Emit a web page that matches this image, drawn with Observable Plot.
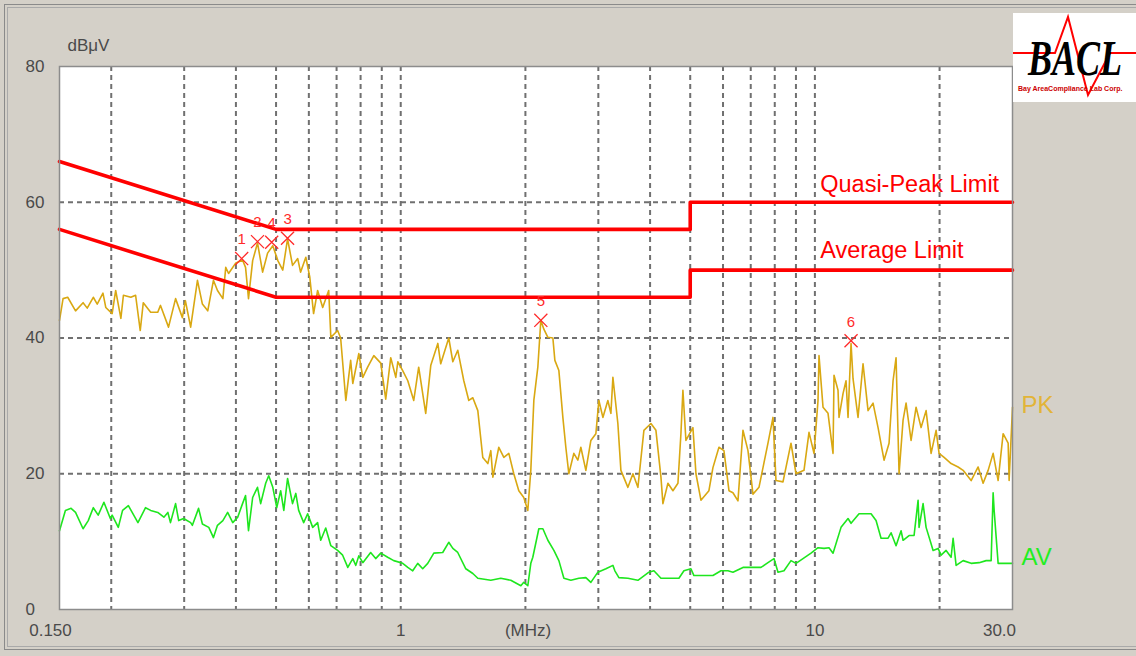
<!DOCTYPE html>
<html><head><meta charset="utf-8">
<script src="https://cdn.jsdelivr.net/npm/d3@7"></script>
<script src="https://cdn.jsdelivr.net/npm/@observablehq/plot@0.6"></script>
<style>
html,body{margin:0;padding:0;background:#d4d0c8;}
#wrap{position:relative;width:1136px;height:656px;overflow:hidden;background:#d4d0c8;font-family:"Liberation Sans",Arial,sans-serif;}
#chart{position:absolute;left:0;top:0;}
.b1{position:absolute;left:4px;top:4px;width:1140px;height:646px;border:1px solid #8a8a8a;box-sizing:border-box;}
.b2{position:absolute;left:7px;top:7px;width:1140px;height:640px;border:1px solid #a9a9a9;box-sizing:border-box;}
#logo{position:absolute;left:1013px;top:13px;width:123px;height:89px;background:#fff;}
</style></head>
<body><div id="wrap"><div class="b1"></div><div class="b2"></div><div id="chart"></div>
<div id="logo"><svg width="123" height="89" viewBox="0 0 123 89">
<polyline points="0,40 42,40 55,4 75,82 97,40 123,40" fill="none" stroke="#ff0000" stroke-width="2"/>
<g transform="scale(1,1.4)"><text x="15" y="44.3" font-family="Liberation Serif, Times New Roman, serif" font-weight="bold" font-style="italic" font-size="36" fill="#000">BACL</text></g>
<text x="5" y="78" font-family="Liberation Sans, Arial, sans-serif" font-weight="bold" font-size="7" fill="#cc0000">Bay AreaCompliance Lab Corp.</text>
</svg></div>
</div>
<script>
// Peak (PK) trace: [MHz, dBµV]
const pkTrace = [[0.150,42.6],[0.153,45.8],[0.157,46.0],[0.164,44.0],[0.171,45.2],[0.175,44.4],[0.181,46.0],[0.185,45.0],[0.191,46.6],[0.194,44.5],[0.201,43.6],[0.205,47.0],[0.211,42.9],[0.214,46.3],[0.223,46.0],[0.229,46.3],[0.235,41.1],[0.239,45.2],[0.249,43.8],[0.259,43.8],[0.263,44.8],[0.275,41.6],[0.286,45.8],[0.297,43.0],[0.302,45.5],[0.311,41.6],[0.323,48.5],[0.332,45.0],[0.342,44.0],[0.353,48.5],[0.361,47.0],[0.372,45.8],[0.378,50.4],[0.384,49.5],[0.399,51.0],[0.415,51.5],[0.422,50.4],[0.429,45.8],[0.439,51.4],[0.451,54.0],[0.464,49.7],[0.477,52.5],[0.491,53.6],[0.505,51.4],[0.519,50.0],[0.533,54.6],[0.548,50.7],[0.564,51.7],[0.573,49.7],[0.590,51.9],[0.603,49.0],[0.616,43.6],[0.630,47.0],[0.648,44.5],[0.670,47.0],[0.678,40.1],[0.704,41.1],[0.716,40.0],[0.737,30.8],[0.757,36.7],[0.766,33.3],[0.792,37.7],[0.810,34.2],[0.832,35.7],[0.861,37.4],[0.895,36.3],[0.920,31.0],[0.946,37.1],[0.973,34.2],[0.984,36.5],[1.011,35.2],[1.040,33.7],[1.075,30.8],[1.105,35.7],[1.149,28.9],[1.182,36.0],[1.229,39.2],[1.249,36.2],[1.306,40.0],[1.336,36.5],[1.373,38.2],[1.420,33.7],[1.460,30.8],[1.493,31.2],[1.535,29.3],[1.578,22.4],[1.623,21.5],[1.650,23.4],[1.669,19.5],[1.725,23.9],[1.774,22.4],[1.824,23.0],[1.875,20.0],[1.928,17.5],[1.982,16.5],[2.027,14.6],[2.061,20.5],[2.096,30.8],[2.143,35.7],[2.179,42.6],[2.216,41.3],[2.266,40.1],[2.330,40.0],[2.356,36.7],[2.409,35.2],[2.463,28.3],[2.504,23.9],[2.546,20.0],[2.618,23.0],[2.677,22.0],[2.722,23.9],[2.799,20.5],[2.878,24.9],[2.959,25.9],[3.009,30.8],[3.077,28.3],[3.163,30.8],[3.217,28.9],[3.253,34.2],[3.344,27.4],[3.401,20.5],[3.536,18.0],[3.636,20.0],[3.738,18.0],[3.865,26.4],[4.019,27.4],[4.132,26.4],[4.249,19.5],[4.296,15.6],[4.417,18.6],[4.542,17.5],[4.670,18.6],[4.748,25.9],[4.801,32.3],[4.882,24.9],[5.076,26.8],[5.162,20.0],[5.307,16.1],[5.548,17.5],[5.673,20.9],[5.866,23.9],[6.031,23.4],[6.202,17.5],[6.341,17.2],[6.520,16.0],[6.704,26.4],[6.893,23.4],[7.087,17.0],[7.328,18.0],[7.704,24.5],[7.922,28.3],[8.055,19.0],[8.375,18.8],[8.756,24.5],[9.003,20.0],[9.412,20.5],[9.678,26.1],[9.951,23.0],[10.175,30.8],[10.231,37.4],[10.462,29.8],[10.757,28.9],[11.061,23.0],[11.122,34.5],[11.372,32.3],[11.436,28.3],[11.693,31.8],[11.890,33.7],[12.023,28.3],[12.226,39.2],[12.362,34.0],[12.710,28.3],[13.069,36.2],[13.438,29.3],[13.817,30.4],[14.207,26.8],[14.688,22.0],[15.103,24.5],[15.443,33.7],[15.703,37.1],[15.967,20.0],[16.327,27.9],[16.602,30.4],[17.070,24.9],[17.552,29.8],[18.047,26.8],[18.556,29.3],[19.079,23.0],[19.618,26.4],[19.947,23.0],[20.509,22.4],[21.326,21.5],[22.171,21.0],[22.797,20.5],[23.836,19.0],[24.780,21.0],[25.480,18.6],[26.199,20.5],[26.937,23.0],[27.697,19.0],[28.479,25.9],[29.282,24.5],[29.444,19.0],[30.0,29.8]];

// Average (AV) trace: [MHz, dBµV]
const avTrace = [[0.150,11.6],[0.155,14.6],[0.160,14.9],[0.164,14.3],[0.171,11.9],[0.176,13.1],[0.181,15.0],[0.186,13.9],[0.192,15.8],[0.199,13.4],[0.201,13.9],[0.208,12.1],[0.213,14.6],[0.220,15.3],[0.232,12.8],[0.242,15.0],[0.249,14.6],[0.259,14.3],[0.268,13.6],[0.274,14.3],[0.278,12.8],[0.286,15.6],[0.291,13.1],[0.299,13.4],[0.311,12.8],[0.314,12.4],[0.325,14.9],[0.332,12.6],[0.344,12.1],[0.353,10.6],[0.361,12.4],[0.372,13.1],[0.382,14.3],[0.393,12.8],[0.404,13.6],[0.415,15.6],[0.422,16.8],[0.429,11.6],[0.439,16.5],[0.451,18.0],[0.459,15.6],[0.472,18.6],[0.480,19.7],[0.491,18.0],[0.502,15.0],[0.513,17.5],[0.522,14.6],[0.533,19.3],[0.548,15.6],[0.558,17.1],[0.567,14.6],[0.583,12.8],[0.596,14.1],[0.613,12.1],[0.630,12.8],[0.641,10.2],[0.659,12.0],[0.678,9.4],[0.704,8.7],[0.724,8.0],[0.745,6.2],[0.766,7.5],[0.779,6.5],[0.792,7.9],[0.810,6.9],[0.846,8.4],[0.870,7.5],[0.895,8.3],[0.930,7.7],[0.962,7.2],[1.011,6.8],[1.040,6.2],[1.069,5.7],[1.099,6.8],[1.130,6.0],[1.162,6.8],[1.202,8.3],[1.263,8.4],[1.306,9.9],[1.336,9.0],[1.373,8.4],[1.436,6.0],[1.493,5.3],[1.535,4.6],[1.650,4.3],[1.744,4.6],[1.844,4.3],[1.950,3.5],[1.982,4.0],[2.027,3.5],[2.061,6.8],[2.084,7.7],[2.155,11.9],[2.204,11.9],[2.266,10.2],[2.343,8.7],[2.409,7.2],[2.477,4.6],[2.575,4.3],[2.692,4.6],[2.799,4.7],[2.878,4.0],[2.992,5.5],[3.129,6.0],[3.253,6.5],[3.289,5.7],[3.363,4.7],[3.536,4.6],[3.738,4.3],[3.974,5.5],[4.086,5.7],[4.249,4.6],[4.696,4.6],[4.828,5.7],[5.020,6.0],[5.104,5.0],[5.367,5.0],[5.673,5.0],[5.932,5.7],[6.167,5.7],[6.341,5.5],[6.704,6.2],[7.009,6.2],[7.410,6.2],[7.704,6.9],[7.966,7.5],[8.145,5.5],[8.421,5.7],[8.756,7.2],[9.003,6.8],[9.360,7.5],[9.787,8.3],[10.175,9.1],[10.520,9.0],[10.817,9.1],[11.061,8.3],[11.564,12.1],[12.023,13.4],[12.226,12.7],[12.781,14.1],[13.438,14.1],[13.665,14.1],[14.050,13.1],[14.446,10.5],[15.019,10.5],[15.273,11.3],[15.703,9.4],[16.147,11.6],[16.327,10.2],[16.880,10.9],[17.356,10.9],[17.748,16.1],[17.847,12.1],[18.248,15.6],[18.556,12.1],[19.079,9.7],[19.292,8.7],[19.836,9.0],[20.171,8.0],[20.740,8.7],[21.326,7.7],[21.563,10.5],[21.927,6.5],[22.797,7.2],[23.836,6.8],[24.919,6.9],[25.910,7.2],[26.641,7.2],[26.937,17.2],[27.088,14.6],[27.697,6.8],[28.637,6.8],[29.776,6.8],[30.0,6.8]];

// Limit lines
const limitFreq = [0.15, 0.5, 5, 5, 30];
const qpLimit  = [66, 56, 56, 60, 60];
const avgLimit = [56, 46, 46, 50, 50];

// Markers
const markerLabels = ["1", "2", "4", "3", "5", "6"];
const markerFreq   = [0.413, 0.451, 0.488, 0.533, 2.179, 12.226];
const markerLevel  = [51.7, 54.2, 54.1, 54.7, 42.6, 39.6];

// Axes & grid
const yTicks = [0, 20, 40, 60, 80];
const yGrid = [20, 40, 60];
const xGrid = [0.2,0.3,0.4,0.5,0.6,0.7,0.8,0.9,1,2,3,4,5,6,7,8,9,10,20];
const xTickLabels = [{f:0.15, t:"0.150"}, {f:1, t:"1"}, {f:10, t:"10"}, {f:30, t:"30.0"}];

const pk = pkTrace.map(([f, v]) => ({f, v}));
const av = avTrace.map(([f, v]) => ({f, v}));
const qp = limitFreq.map((f, i) => ({f, v: qpLimit[i]}));
const al = limitFreq.map((f, i) => ({f, v: avgLimit[i]}));
const markers = markerLabels.map((n, i) => ({n, f: markerFreq[i], v: markerLevel[i]}));

const FONT = "Liberation Sans, Arial, sans-serif";
const axisColor = "#4a4a4a";

const chart = Plot.plot({
  width: 1136, height: 656,
  marginLeft: 59, marginRight: 124, marginTop: 66, marginBottom: 47,
  style: {background: "transparent", fontFamily: FONT, overflow: "visible"},
  x: {type: "log", domain: [0.15, 30], label: null},
  y: {domain: [0, 80], label: null},
  marks: [
    Plot.frame({fill: "#ffffff", stroke: "none"}),
    Plot.ruleX(xGrid, {stroke: "#707070", strokeWidth: 2, strokeDasharray: "5,4"}),
    Plot.ruleY(yGrid, {stroke: "#707070", strokeWidth: 2, strokeDasharray: "5,4"}),
    Plot.line(av, {x: "f", y: "v", stroke: "#1ee61e", strokeWidth: 1.6}),
    Plot.line(pk, {x: "f", y: "v", stroke: "#d9a812", strokeWidth: 1.6}),
    Plot.line(qp, {x: "f", y: "v", stroke: "#ff0000", strokeWidth: 3.6}),
    Plot.line(al, {x: "f", y: "v", stroke: "#ff0000", strokeWidth: 3.6}),
    Plot.dot(markers, {x: "f", y: "v", symbol: "times", r: 6, stroke: "#ff2a2a", strokeWidth: 1.3}),
    Plot.text(markers, {x: "f", y: "v", text: "n", dy: -19, fill: "#ff2a2a", fontSize: 15}),
    Plot.text([{t: "Quasi-Peak Limit", f: 10.3, v: 60}], {x: "f", y: "v", text: "t", dy: -10, textAnchor: "start", lineAnchor: "bottom", fill: "#ff0000", fontSize: 23.5}),
    Plot.text([{t: "Average Limit", f: 10.3, v: 50}], {x: "f", y: "v", text: "t", dy: -12, textAnchor: "start", lineAnchor: "bottom", fill: "#ff0000", fontSize: 23.5}),
    Plot.text([{t: "PK", f: 30, v: 30.1}], {x: "f", y: "v", text: "t", dx: 9, textAnchor: "start", fill: "#e2b437", fontSize: 24}),
    Plot.text([{t: "AV", f: 30, v: 7.7}], {x: "f", y: "v", text: "t", dx: 9, textAnchor: "start", fill: "#22ee22", fontSize: 24}),
    Plot.frame({stroke: "#8c8c8c", strokeWidth: 1.5}),
    Plot.axisY(yTicks, {tickSize: 0, tickPadding: 34, textAnchor: "start", fontSize: 17, fill: axisColor, label: null}),
    Plot.axisX([xTickLabels[0].f], {tickSize: 0, tickPadding: 14, dx: -9, tickFormat: () => xTickLabels[0].t, fontSize: 17, fill: axisColor, label: null}),
    Plot.axisX([xTickLabels[1].f, xTickLabels[2].f], {tickSize: 0, tickPadding: 14, tickFormat: d => String(d), fontSize: 17, fill: axisColor, label: null}),
    Plot.axisX([xTickLabels[3].f], {tickSize: 0, tickPadding: 14, dx: -13, tickFormat: () => xTickLabels[3].t, fontSize: 17, fill: axisColor, label: null}),
    Plot.axisX([2.03], {tickSize: 0, tickPadding: 14, tickFormat: () => "(MHz)", fontSize: 17, fill: axisColor, label: null}),
    Plot.text(["dBμV"], {frameAnchor: "top-left", dx: 8, dy: -28, textAnchor: "start", fill: axisColor, fontSize: 17})
  ]
});
document.getElementById("chart").appendChild(chart);
</script>
</body></html>
